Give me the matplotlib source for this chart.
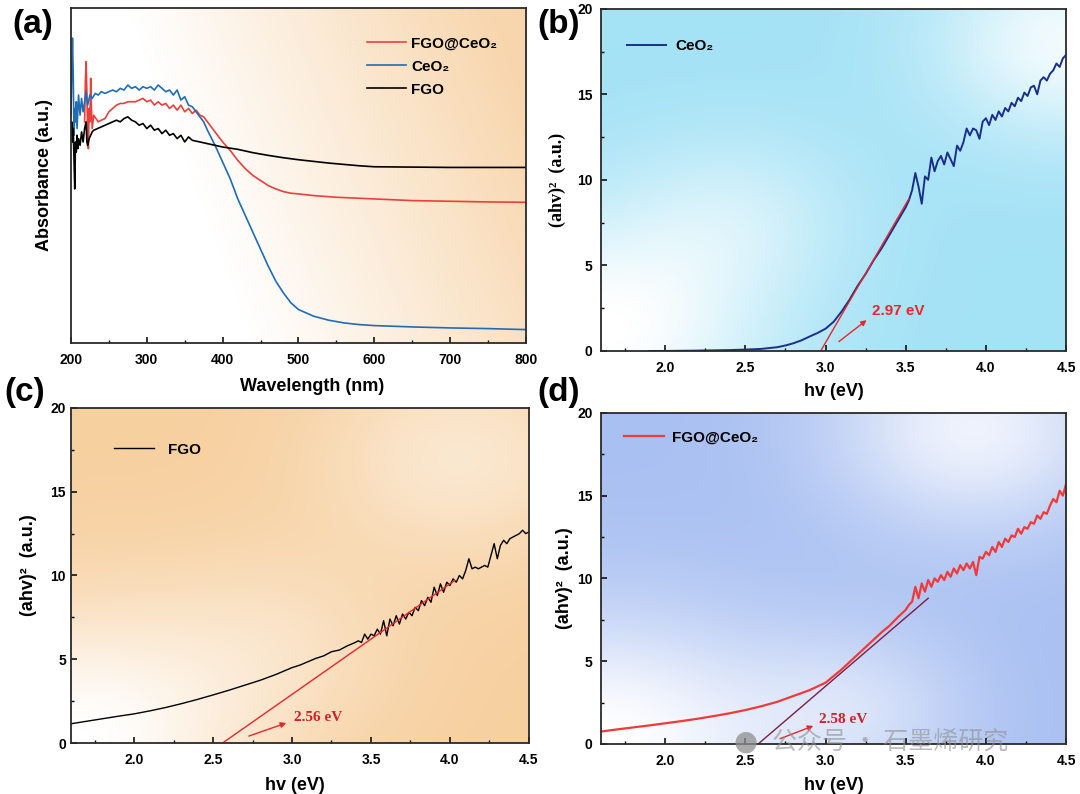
import numpy as np
import matplotlib
matplotlib.use('Agg')
import matplotlib.pyplot as plt
from matplotlib.ticker import MultipleLocator
from matplotlib.colors import to_rgb

plt.rcParams['font.family'] = ['Liberation Sans', 'DejaVu Sans']
plt.rcParams['font.weight'] = 'bold'
plt.rcParams['axes.labelweight'] = 'bold'

# (a) UV-vis absorbance (a.u.)
wl_ceo2 = [200, 201, 202, 203, 204, 205, 206, 207, 208, 210, 212, 214, 216, 218, 220, 222, 225, 228, 232,
           236, 240, 245, 250, 255, 260, 265, 270, 275, 280, 285, 290, 295, 300, 305, 310, 315, 320, 325,
           330, 335, 340, 345, 350, 355, 360, 365, 370, 375, 380, 390, 400, 410, 420, 430, 440, 450, 460,
           470, 480, 490, 500, 520, 540, 560, 580, 600, 650, 700, 750, 800]
abs_ceo2 = [0.68, 0.80, 0.91, 0.80, 0.62, 0.70, 0.66, 0.72, 0.64, 0.74, 0.68, 0.73, 0.69, 0.72, 0.75, 0.71,
            0.74, 0.73, 0.745, 0.74, 0.75, 0.745, 0.75, 0.755, 0.75, 0.76, 0.755, 0.77, 0.76, 0.765, 0.755,
            0.765, 0.76, 0.765, 0.755, 0.77, 0.76, 0.75, 0.755, 0.74, 0.755, 0.725, 0.735, 0.71, 0.705, 0.69,
            0.675, 0.66, 0.635, 0.59, 0.54, 0.49, 0.43, 0.38, 0.33, 0.28, 0.23, 0.185, 0.15, 0.12, 0.10,
            0.08, 0.068, 0.06, 0.055, 0.052, 0.048, 0.045, 0.043, 0.04]

wl_comp = [218, 219, 220, 221, 222, 223, 224, 225, 226, 227, 228, 230, 233, 236, 240, 245, 250, 255, 260,
           265, 270, 275, 280, 285, 290, 295, 300, 305, 310, 315, 320, 325, 330, 335, 340, 345, 350, 355,
           360, 365, 370, 375, 380, 385, 390, 395, 400, 410, 420, 430, 440, 450, 460, 470, 480, 490, 500,
           520, 550, 600, 650, 700, 750, 800]
abs_comp = [0.66, 0.78, 0.84, 0.75, 0.62, 0.58, 0.70, 0.66, 0.79, 0.70, 0.64, 0.68, 0.67, 0.66, 0.665,
            0.67, 0.69, 0.70, 0.71, 0.715, 0.715, 0.72, 0.72, 0.72, 0.725, 0.73, 0.72, 0.725, 0.71, 0.72,
            0.71, 0.715, 0.70, 0.71, 0.695, 0.71, 0.69, 0.70, 0.685, 0.695, 0.68, 0.675, 0.66, 0.645, 0.63,
            0.615, 0.60, 0.575, 0.545, 0.52, 0.50, 0.485, 0.47, 0.46, 0.452, 0.447, 0.445, 0.44, 0.435,
            0.43, 0.425, 0.423, 0.421, 0.42]

wl_fgo = [200, 201, 202, 203, 204, 205, 206, 207, 208, 209, 210, 212, 214, 216, 218, 220, 221, 222, 224,
          226, 228, 230, 235, 240, 245, 250, 255, 260, 265, 270, 275, 280, 285, 290, 295, 300, 305, 310,
          315, 320, 325, 330, 335, 340, 345, 350, 355, 360, 370, 380, 390, 400, 420, 440, 460, 480, 500,
          520, 540, 560, 580, 600, 650, 700, 750, 800]
abs_fgo = [0.62, 0.66, 0.60, 0.64, 0.55, 0.46, 0.60, 0.57, 0.62, 0.58, 0.61, 0.59, 0.63, 0.60, 0.64, 0.66,
           0.60, 0.59, 0.61, 0.62, 0.63, 0.635, 0.64, 0.645, 0.65, 0.655, 0.66, 0.665, 0.66, 0.67, 0.675,
           0.665, 0.66, 0.65, 0.655, 0.64, 0.65, 0.635, 0.64, 0.625, 0.635, 0.62, 0.625, 0.61, 0.62, 0.60,
           0.615, 0.605, 0.60, 0.595, 0.59, 0.585, 0.578, 0.568, 0.56, 0.553, 0.547, 0.542, 0.537, 0.533,
           0.529, 0.526, 0.525, 0.524, 0.524, 0.524]

# (b) CeO2 Tauc
hv_b = [1.9, 2.0, 2.2, 2.4, 2.5, 2.6, 2.7, 2.75, 2.8, 2.85, 2.9, 2.95, 3.0, 3.05, 3.1, 3.15, 3.2, 3.25,
        3.3, 3.35, 3.4, 3.45, 3.5,
        3.52, 3.54, 3.56, 3.58, 3.60, 3.62, 3.64, 3.66, 3.68, 3.70, 3.72, 3.74, 3.76, 3.78, 3.80, 3.82,
        3.84, 3.86, 3.88, 3.90, 3.92, 3.94, 3.96, 3.98, 4.00, 4.02, 4.04, 4.06, 4.08, 4.10, 4.12, 4.14,
        4.16, 4.18, 4.20, 4.22, 4.24, 4.26, 4.28, 4.30, 4.32, 4.34, 4.36, 4.38, 4.40, 4.42, 4.44, 4.46,
        4.48, 4.50]
tauc_b = [0.0, 0.0, 0.02, 0.05, 0.08, 0.12, 0.22, 0.32, 0.45, 0.62, 0.84, 1.05, 1.3, 1.7, 2.3, 3.0, 3.8,
          4.5, 5.3, 6.0, 6.8, 7.6, 8.4,
          8.8, 9.4, 10.4, 9.6, 8.6, 10.2, 10.0, 11.3, 10.5, 11.1, 11.4, 10.9, 11.6, 11.2, 10.8, 12.0,
          11.7, 12.2, 13.0, 12.6, 13.0, 12.9, 12.4, 13.4, 13.6, 13.2, 13.8, 13.5, 14.0, 13.7, 14.2, 14.0,
          14.5, 14.3, 14.8, 14.6, 15.1, 14.9, 15.4, 15.5, 15.0, 15.8, 16.0, 15.8, 16.2, 16.4, 16.8, 16.6,
          17.1, 17.3]
fit_b_x = [2.97, 3.52]
fit_b_y = [0.0, 8.9]

# (c) FGO Tauc
hv_c = [1.6, 1.7, 1.8, 1.9, 2.0, 2.1, 2.2, 2.3, 2.4, 2.5, 2.6, 2.7, 2.8, 2.9, 3.0, 3.05, 3.1, 3.15, 3.2,
        3.25, 3.3, 3.35,
        3.40, 3.42, 3.44, 3.46, 3.48, 3.50, 3.52, 3.54, 3.56, 3.58, 3.60, 3.62, 3.64, 3.66, 3.68, 3.70,
        3.72, 3.74, 3.76, 3.78, 3.80, 3.82, 3.84, 3.86, 3.88, 3.90, 3.92, 3.94, 3.96, 3.98, 4.00, 4.02,
        4.04, 4.06, 4.08, 4.10, 4.12, 4.14, 4.16, 4.18, 4.20, 4.22, 4.24, 4.26, 4.28, 4.30, 4.32, 4.34,
        4.36, 4.38, 4.40, 4.42, 4.44, 4.46, 4.48, 4.50]
tauc_c = [1.15, 1.3, 1.45, 1.6, 1.74, 1.92, 2.12, 2.35, 2.6, 2.87, 3.15, 3.45, 3.75, 4.1, 4.5, 4.65, 4.85,
          5.05, 5.2, 5.45, 5.55, 5.8,
          6.0, 6.1, 6.0, 6.5, 6.2, 6.5, 6.4, 6.8, 6.5, 7.3, 6.4, 7.4, 7.0, 7.6, 7.1, 7.7,
          7.4, 7.8, 7.6, 8.1, 7.9, 8.5, 8.2, 8.7, 8.4, 9.3, 8.8, 9.5, 9.0, 9.6, 9.4, 9.8,
          9.6, 10.0, 9.8, 10.3, 11.0, 10.4, 10.5, 10.4, 10.5, 10.6, 10.5, 11.2, 11.9, 11.0, 11.8, 12.1,
          11.9, 12.2, 12.3, 12.4, 12.5, 12.7, 12.5, 12.6]
fit_c_x = [2.56, 4.03]
fit_c_y = [0.0, 9.7]

# (d) FGO@CeO2 Tauc
hv_d = [1.6, 1.7, 1.8, 1.9, 2.0, 2.1, 2.2, 2.3, 2.4, 2.5, 2.6, 2.7, 2.8, 2.9, 3.0, 3.05, 3.1, 3.15, 3.2,
        3.25, 3.3, 3.35, 3.4, 3.45,
        3.50, 3.52, 3.54, 3.56, 3.58, 3.60, 3.62, 3.64, 3.66, 3.68, 3.70, 3.72, 3.74, 3.76, 3.78, 3.80,
        3.82, 3.84, 3.86, 3.88, 3.90, 3.92, 3.94, 3.96, 3.98, 4.00, 4.02, 4.04, 4.06, 4.08, 4.10, 4.12,
        4.14, 4.16, 4.18, 4.20, 4.22, 4.24, 4.26, 4.28, 4.30, 4.32, 4.34, 4.36, 4.38, 4.40, 4.42, 4.44,
        4.46, 4.48, 4.50]
tauc_d = [0.75, 0.88, 1.0, 1.12, 1.25, 1.38, 1.52, 1.68, 1.85, 2.05, 2.28, 2.55, 2.9, 3.25, 3.7, 4.1,
          4.5, 4.95, 5.4, 5.85, 6.3, 6.75, 7.15, 7.65,
          8.1, 8.4, 8.6, 9.5, 8.8, 9.7, 9.2, 9.9, 9.5, 10.0, 9.8, 10.2, 9.9, 10.4, 10.1, 10.6,
          10.3, 10.8, 10.5, 10.9, 10.6, 11.0, 10.2, 11.3, 11.2, 11.6, 11.4, 11.9, 11.6, 12.2, 11.9, 12.4,
          12.2, 12.6, 12.5, 13.0, 12.7, 13.1, 13.0, 13.4, 13.3, 13.8, 13.6, 14.0, 13.9, 14.4, 14.8, 14.6,
          15.3, 15.0, 15.7]
fit_d_x = [2.58, 3.64]
fit_d_y = [0.0, 8.8]

VERMELHO = '#e8262c'


def fundo(ax, cor, campo):
    # fundo em degrade (branco -> cor)
    xs = np.linspace(0, 1, 300)
    ys = np.linspace(0, 1, 300)
    X, Y = np.meshgrid(xs, ys)
    w = np.clip(campo(X, Y), 0, 1)[..., None]
    img = (1 - w) * np.ones(3) + w * np.array(to_rgb(cor))
    ax.imshow(img, extent=[0, 1, 0, 1], origin='lower', transform=ax.transAxes,
              aspect='auto', zorder=0, interpolation='bilinear')


def mancha(X, Y, cx, cy, s):
    return np.exp(-((X - cx) ** 2 + (Y - cy) ** 2) / (2 * s * s))


def eixos(ax, ypad=6):
    for s in ax.spines.values():
        s.set_linewidth(1.3)
        s.set_color('#2a2a2a')
        s.set_zorder(5)
    ax.tick_params(which='both', direction='in', top=False, right=False, labelsize=10)
    ax.tick_params(which='major', length=4, width=1.1)
    ax.tick_params(which='minor', length=2.5, width=1.0)
    ax.tick_params(axis='x', pad=7)
    ax.tick_params(axis='y', pad=ypad)


fig = plt.figure(figsize=(10.8, 7.94), dpi=100)
ax_a = fig.add_axes([0.0657, 0.568, 0.4213, 0.422])
ax_b = fig.add_axes([0.5565, 0.558, 0.4306, 0.431])
ax_c = fig.add_axes([0.0657, 0.0642, 0.424, 0.422])
ax_d = fig.add_axes([0.5565, 0.063, 0.4306, 0.417])

# ---------- (a)
fundo(ax_a, '#f8d6ad', lambda X, Y: 1.25 * (X - 0.32) + 0.35 * (Y - 0.3))
ax_a.plot(wl_comp, abs_comp, color='#e8413c', lw=1.2, label='FGO@CeO₂', zorder=3)
ax_a.plot(wl_ceo2, abs_ceo2, color='#1f6db5', lw=1.2, label='CeO₂', zorder=3)
ax_a.plot(wl_fgo, abs_fgo, color='black', lw=1.2, label='FGO', zorder=3)
ax_a.set_xlim(200, 800)
ax_a.set_ylim(0, 1)
ax_a.xaxis.set_major_locator(MultipleLocator(100))
ax_a.xaxis.set_minor_locator(MultipleLocator(50))
ax_a.set_yticks([])
eixos(ax_a)
ax_a.set_xlabel('Wavelength (nm)', fontsize=13)
ax_a.xaxis.set_label_coords(0.53, -0.105)
ax_a.set_ylabel('Absorbance (a.u.)', fontsize=13)
ax_a.yaxis.set_label_coords(-0.04, 0.5)
ax_a.legend(loc='upper left', bbox_to_anchor=(0.65, 0.915), frameon=False, fontsize=11,
            handlelength=2.6, handletextpad=0.3, labelspacing=0.6, borderaxespad=0, borderpad=0)

# ---------- Tauc plots
def tauc(ax, x, y, cor, nome, fx, fy, cor_fit, seta0, seta1, txt_pos, txt, serif, cor_fundo, campo, lw):
    fundo(ax, cor_fundo, campo)
    ax.plot(x, y, color=cor, lw=lw, label=nome, zorder=3)
    ax.plot(fx, fy, color=cor_fit, lw=1.0, zorder=4)
    ax.annotate('', xy=seta1, xytext=seta0,
                arrowprops=dict(arrowstyle='-|>', color=VERMELHO, lw=1.0, mutation_scale=8), zorder=4)
    if serif:
        ax.text(txt_pos[0], txt_pos[1], txt, color='#d0202a', fontsize=11, fontweight='bold',
                family=['Liberation Serif', 'DejaVu Serif'], va='center', zorder=4)
    else:
        ax.text(txt_pos[0], txt_pos[1], txt, color=VERMELHO, fontsize=11, fontweight='bold',
                va='center', zorder=4)
    ax.set_xlim(1.6, 4.5)
    ax.set_ylim(0, 20)
    ax.xaxis.set_major_locator(MultipleLocator(0.5))
    ax.xaxis.set_minor_locator(MultipleLocator(0.25))
    ax.yaxis.set_major_locator(MultipleLocator(5))
    ax.yaxis.set_minor_locator(MultipleLocator(2.5))
    ax.set_xticks([2.0, 2.5, 3.0, 3.5, 4.0, 4.5])
    ax.set_xlabel('hv (eV)', fontsize=13)


tauc(ax_b, hv_b, tauc_b, '#1a2f8a', 'CeO₂', fit_b_x, fit_b_y, VERMELHO,
     (3.07, 0.45), (3.27, 1.9), (3.29, 2.35), '2.97 eV', False, '#a4e2f6',
     lambda X, Y: 1 - 1.0 * mancha(X, Y, 0.0, 0.05, 0.25) - 0.85 * mancha(X, Y, 1.0, 0.9, 0.2)
     - 0.4 * mancha(X, Y, 0.3, 0.4, 0.18), 1.4)
eixos(ax_b)
ax_b.set_ylabel('(ahv)²  (a.u.)', fontsize=13, family=['Liberation Serif', 'DejaVu Serif'])
ax_b.yaxis.set_label_coords(-0.075, 0.5)
ax_b.xaxis.set_label_coords(0.5, -0.095)
ax_b.legend(loc='center left', bbox_to_anchor=(0.055, 0.89), frameon=False, fontsize=11,
            handlelength=2.6, handletextpad=0.6, borderaxespad=0, borderpad=0)

tauc(ax_c, hv_c, tauc_c, 'black', 'FGO', fit_c_x, fit_c_y, VERMELHO,
     (2.71, 0.36), (2.98, 1.25), (3.01, 1.5), '2.56 eV', True, '#f7d0a0',
     lambda X, Y: 1 - 1.0 * mancha(X, Y, 0.0, 0.0, 0.28) - 0.5 * mancha(X, Y, 0.85, 0.85, 0.22)
     - 0.3 * mancha(X, Y, 0.45, 0.3, 0.2), 1.0)
eixos(ax_c, ypad=3.5)
ax_c.set_ylabel('(ahv)²  (a.u.)', fontsize=13)
ax_c.yaxis.set_label_coords(-0.074, 0.53)
ax_c.xaxis.set_label_coords(0.49, -0.1)
ax_c.legend(loc='center left', bbox_to_anchor=(0.095, 0.875), frameon=False, fontsize=11,
            handlelength=2.6, handletextpad=0.9, borderaxespad=0, borderpad=0)

tauc(ax_d, hv_d, tauc_d, '#f03a3a', 'FGO@CeO₂', fit_d_x, fit_d_y, '#7a1e48',
     (2.70, 0.26), (2.94, 1.15), (2.96, 1.45), '2.58 eV', True, '#a9c0f2',
     lambda X, Y: 1 - 1.0 * mancha(X, Y, 0.0, 0.0, 0.28) - 0.8 * mancha(X, Y, 0.8, 0.95, 0.22)
     - 0.45 * mancha(X, Y, 0.55, 0.1, 0.18), 1.6)
eixos(ax_d)
ax_d.set_ylabel('(ahv)²  (a.u.)', fontsize=13)
ax_d.yaxis.set_label_coords(-0.06, 0.5)
ax_d.xaxis.set_label_coords(0.5, -0.1)
ax_d.legend(loc='center left', bbox_to_anchor=(0.05, 0.925), frameon=False, fontsize=11,
            handlelength=2.6, handletextpad=0.5, borderaxespad=0, borderpad=0)

# rótulos dos painéis
for t, x, y in [('(a)', 12, 24), ('(b)', 537, 24), ('(c)', 4, 392), ('(d)', 537, 392)]:
    fig.text(x / 1080, 1 - y / 794, t, fontsize=24, fontweight='bold', ha='left', va='center')

# marca d'agua
fig.text(746 / 1080, 1 - 742 / 794, '●', fontsize=20, color='#8f8f8f', alpha=0.75,
         ha='center', va='center', family='DejaVu Sans')
fig.text(772 / 1080, 1 - 742 / 794, '公众号 · 石墨烯研究', fontsize=18, color='#8f8f8f', alpha=0.6,
         ha='left', va='center', fontweight='normal', family=['Noto Sans CJK SC', 'DejaVu Sans'])

fig.savefig('out.png', dpi=100)
